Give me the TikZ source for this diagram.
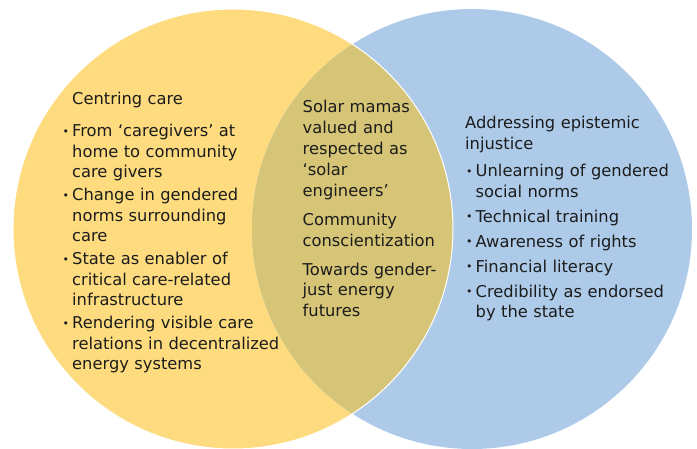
\documentclass[tikz,border=0pt]{standalone}
\usepackage{fontspec}
\setmainfont{DejaVu Sans}
\usepackage{xcolor}
\definecolor{careyellow}{HTML}{FDDB7E}
\definecolor{epiblue}{HTML}{ADCBE9}
\definecolor{overlapgold}{HTML}{D6C576}
\definecolor{inkdark}{HTML}{1C1C1C}
\newcommand\vennbullet{\hangindent=9.5pt\hangafter=1\noindent\makebox[9.5pt][l]{\fontsize{11}{11}\selectfont\raisebox{1.8pt}{•}}}
\newcommand\vennitem[1][4pt]{\par\vspace{#1}\vennbullet}
\tikzset{
  venntext/.style={anchor=base west,inner sep=0pt,text=inkdark,align=left,
    text width=#1,font=\fontsize{16.3}{20.5}\selectfont},
  venntext/.default=230pt
}

\begin{document}
\begin{tikzpicture}[x=1pt,y=-1pt]
        \useasboundingbox (0,0) rectangle (697,449);

        \coordinate (lc) at (233,229);
        \coordinate (rc) at (472,229);
        \fill[careyellow] (lc) circle[radius=220pt];
        \fill[epiblue] (rc) circle[radius=220pt];
        \begin{scope}
          \clip (lc) circle[radius=220pt];
          \fill[overlapgold] (rc) circle[radius=220pt];
        \end{scope}
        \draw[white,line width=1pt] (lc) circle[radius=220pt];

        % left circle
        \node[venntext] (carehead) at (72,105) {Centring care};
        \node[venntext] (carelist) at (62.5,137) {%
          \vennbullet From ‘caregivers’ at\newline home to community\newline care givers
          \vennitem[2.5pt]Change in gendered\newline norms surrounding\newline care
          \vennitem[2.5pt]State as enabler of\newline critical care-related\newline infrastructure
          \vennitem[2.5pt]Rendering visible care\newline relations in decentralized\newline energy systems\par};

        % overlap
        \node[venntext=140pt,font=\fontsize{16.3}{20.8}\selectfont] (shared) at (302.5,113) {%
          Solar mamas\newline valued and\newline respected as\newline ‘solar\newline engineers’\par
          \vspace{8.5pt}Community\newline conscientization\par
          \vspace{8pt}Towards gender-\newline just energy\newline futures\par};

        % right circle
        \node[venntext] (epihead) at (465,129) {Addressing epistemic\newline injustice};
        \node[venntext] (epilist) at (466,177) {%
          \vennbullet Unlearning of gendered\newline social norms
          \vennitem[4.5pt]Technical training
          \vennitem[4.5pt]Awareness of rights
          \vennitem[4.5pt]Financial literacy
          \vennitem[4.5pt]Credibility as endorsed\newline by the state\par};

\end{tikzpicture}
\end{document}
